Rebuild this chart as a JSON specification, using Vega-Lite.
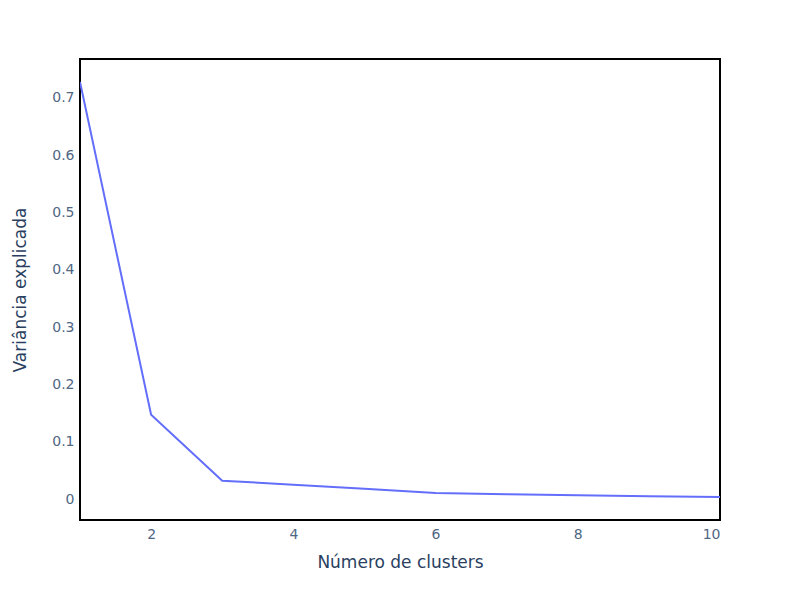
{
  "$schema": "https://vega.github.io/schema/vega-lite/v6.json",
  "autosize": {"type": "none"},
  "width": 640,
  "height": 461,
  "padding": {"left": 80, "top": 59, "right": 80, "bottom": 80},
  "background": "white",
  "config": {
    "font": "DejaVu Sans",
    "view": {"stroke": "black", "strokeWidth": 2},
    "axis": {
      "grid": false,
      "ticks": false,
      "domain": false,
      "labelFont": "DejaVu Sans",
      "labelFontSize": 14,
      "labelColor": "#506784",
      "titleFont": "DejaVu Sans",
      "titleFontSize": 17,
      "titleFontWeight": "normal",
      "titleColor": "#2a3f5f"
    }
  },
  "data": {
    "values": [
      {"clusters": 1, "variancia": 0.728},
      {"clusters": 2, "variancia": 0.147},
      {"clusters": 3, "variancia": 0.032},
      {"clusters": 4, "variancia": 0.025},
      {"clusters": 5, "variancia": 0.018},
      {"clusters": 6, "variancia": 0.0105},
      {"clusters": 7, "variancia": 0.0085},
      {"clusters": 8, "variancia": 0.0065},
      {"clusters": 9, "variancia": 0.0048},
      {"clusters": 10, "variancia": 0.0035}
    ]
  },
  "mark": {"type": "line", "color": "#636efa", "strokeWidth": 2, "clip": true},
  "encoding": {
    "x": {
      "field": "clusters",
      "type": "quantitative",
      "title": "Número de clusters",
      "scale": {"domain": [1, 10], "nice": false, "zero": false},
      "axis": {"values": [2, 4, 6, 8, 10], "labelPadding": 7, "titleY": 42, "titleBaseline": "middle"}
    },
    "y": {
      "field": "variancia",
      "type": "quantitative",
      "title": "Variância explicada",
      "scale": {"domain": [-0.0366, 0.768], "nice": false, "zero": false},
      "axis": {"values": [0, 0.1, 0.2, 0.3, 0.4, 0.5, 0.6, 0.7], "format": ".1~f", "labelPadding": 6, "titleX": -60, "titleBaseline": "middle"}
    }
  }
}
